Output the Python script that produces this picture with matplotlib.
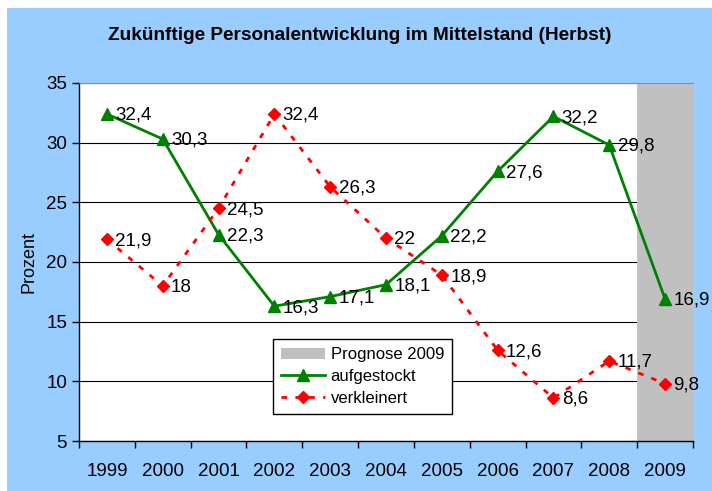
import matplotlib.pyplot as plt
import matplotlib.patches as mpatches
import numpy as np

plt.rcParams['font.family'] = ['Liberation Sans', 'DejaVu Sans']

jahre = ['1999', '2000', '2001', '2002', '2003', '2004', '2005', '2006', '2007', '2008', '2009']
aufgestockt = [32.4, 30.3, 22.3, 16.3, 17.1, 18.1, 22.2, 27.6, 32.2, 29.8, 16.9]
verkleinert = [21.9, 18, 24.5, 32.4, 26.3, 22, 18.9, 12.6, 8.6, 11.7, 9.8]
prognose = 35  # grauer Balken fuer 2009

blau = '#99ccff'
fig = plt.figure(figsize=(7.12, 4.91), dpi=100, facecolor='white')
# blauer Hintergrund des Diagrammbereichs
fig.patches.append(mpatches.Rectangle((7/712, 0), 1, 1 - 8/491, transform=fig.transFigure,
                                      facecolor=blau, edgecolor='none', zorder=-10))
ax = fig.add_axes([79/712, 50/491, 614/712, 358/491])
ax.set_facecolor('white')

x = np.arange(len(jahre))
ax.set_axisbelow(True)
ax.yaxis.grid(True, color='black', lw=0.8)
b = ax.bar(x[-1], prognose - 5, bottom=5, width=1.0, color='#c0c0c0', zorder=1, label='Prognose 2009')

l1, = ax.plot(x, aufgestockt, color='#008000', lw=2, marker='^', ms=9, zorder=3, label='aufgestockt')
l2, = ax.plot(x, verkleinert, color='#ff0000', lw=2, ls=(0, (2, 3)), marker='D', ms=6.5,
              zorder=3, label='verkleinert')

for xi, v in zip(x, aufgestockt):
    ax.annotate(str(v).replace('.', ','), (xi, v), xytext=(6, -1), textcoords='offset points',
                va='center', ha='left', fontsize=13.5, zorder=4, annotation_clip=False)
for xi, v in zip(x, verkleinert):
    lab = str(v).replace('.', ',').replace(',0', '')
    ax.annotate(lab, (xi, v), xytext=(6, -1), textcoords='offset points',
                va='center', ha='left', fontsize=13.5, zorder=4, annotation_clip=False)

ax.set_xlim(-0.5, len(jahre) - 0.5)
ax.set_ylim(5, 35)
ax.set_yticks(range(5, 36, 5))
ax.set_xticks(x)
ax.set_xticklabels(jahre)
ax.set_xticks(np.arange(-0.5, len(jahre), 1), minor=True)
ax.tick_params(axis='x', which='major', length=0, pad=16, labelsize=13.5)
ax.tick_params(axis='x', which='minor', length=5, direction='out', width=1)
ax.tick_params(axis='y', length=5, direction='out', width=1, labelsize=13.5)

ax.spines['right'].set_visible(False)
ax.spines['top'].set_color('#7f8fa6')
ax.spines['left'].set_linewidth(1)
ax.spines['bottom'].set_linewidth(1)

ax.set_ylabel('Prozent', fontsize=13, labelpad=6)
fig.text(0.505, 1 - 35/491, 'Zukünftige Personalentwicklung im Mittelstand (Herbst)',
         ha='center', va='center', fontsize=13.7, fontweight='bold')

leg = ax.legend([b, l1, l2], ['Prognose 2009', 'aufgestockt', 'verkleinert'],
                loc='lower left', bbox_to_anchor=(0.316, 0.075), borderaxespad=0,
                fontsize=12, fancybox=False, framealpha=1, edgecolor='black',
                borderpad=0.5, labelspacing=0.4, handlelength=2.6, handletextpad=0.35)
leg.get_frame().set_linewidth(1)

fig.savefig('out.png', dpi=100, facecolor=fig.get_facecolor())
